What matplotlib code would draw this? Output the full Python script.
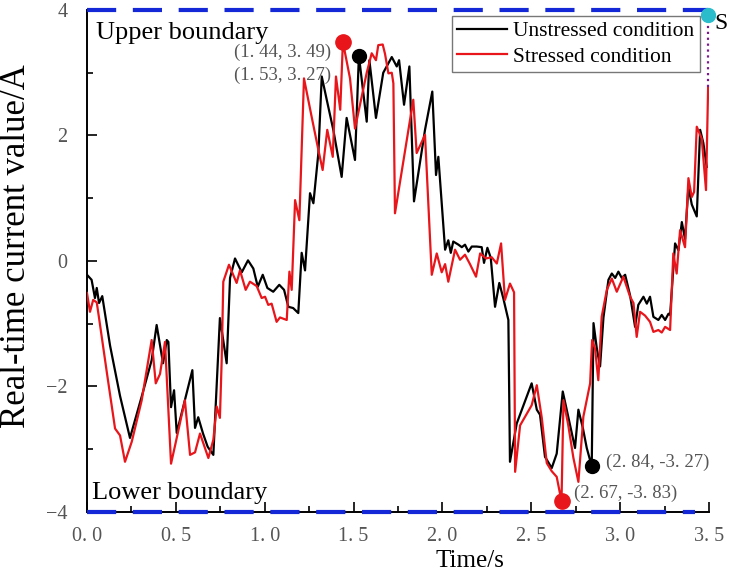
import matplotlib.pyplot as plt
from matplotlib.ticker import MultipleLocator, FuncFormatter

plt.rcParams['font.family'] = ['Liberation Serif', 'DejaVu Serif']

# Unstressed condition (time in s, current in A)
t_unstressed = [0.00, 0.026, 0.045, 0.055, 0.068, 0.086, 0.13, 0.186, 0.242, 0.308, 0.364,
                0.392, 0.428, 0.449, 0.458, 0.473, 0.49, 0.505, 0.593, 0.608, 0.626, 0.653,
                0.679, 0.711, 0.748, 0.786, 0.805, 0.833, 0.871, 0.906, 0.936, 0.961, 0.989,
                1.015, 1.048, 1.082, 1.109, 1.133, 1.16, 1.189, 1.208, 1.227, 1.255, 1.274,
                1.302, 1.321, 1.349, 1.386, 1.433, 1.461, 1.508, 1.53, 1.574, 1.589, 1.626,
                1.667, 1.715, 1.743, 1.756, 1.784, 1.814, 1.84, 1.902, 1.943, 1.964, 1.977,
                2.015, 2.033, 2.047, 2.061, 2.09, 2.109, 2.127, 2.146, 2.165, 2.193, 2.221,
                2.234, 2.253, 2.272, 2.296, 2.32, 2.343, 2.371, 2.38, 2.418, 2.502, 2.531,
                2.549, 2.577, 2.615, 2.643, 2.677, 2.746, 2.765, 2.79, 2.812, 2.84, 2.85,
                2.869, 2.887, 2.906, 2.934, 2.953, 2.972, 2.99, 3.009, 3.028, 3.056, 3.084,
                3.102, 3.131, 3.15, 3.168, 3.187, 3.215, 3.234, 3.253, 3.272, 3.281, 3.309,
                3.328, 3.347, 3.365, 3.384, 3.403, 3.431, 3.45, 3.468, 3.487]
i_unstressed = [-0.22, -0.30, -0.59, -0.43, -0.67, -0.56, -1.35, -2.15, -2.82, -2.16, -1.58,
                -1.02, -1.63, -1.26, -1.29, -2.33, -2.06, -2.74, -1.74, -2.66, -2.49, -2.75,
                -2.96, -3.09, -0.91, -1.63, -0.27, 0.04, -0.18, 0.01, -0.12, -0.41, -0.22,
                -0.43, -0.49, -0.38, -0.46, -0.73, -0.75, -0.83, 0.13, -0.15, 1.08, 0.92,
                1.72, 2.94, 2.57, 2.09, 1.34, 2.28, 1.61, 3.27, 2.22, 3.20, 2.28,
                3.00, 3.25, 3.10, 3.20, 2.49, 3.10, 0.95, 2.09, 2.70, 1.37, 1.66,
                0.18, 0.33, 0.13, 0.31, 0.26, 0.22, 0.26, 0.15, 0.23, 0.23, 0.22,
                -0.03, 0.21, 0.05, -0.73, -0.35, -0.60, -0.94, -3.20, -2.59, -1.95, -2.37,
                -2.45, -3.12, -3.30, -3.07, -2.08, -2.98, -2.37, -2.66, -2.98, -3.27, -0.99,
                -1.40, -1.68, -0.90, -0.30, -0.20, -0.27, -0.17, -0.27, -0.22, -0.55, -1.05,
                -0.70, -0.57, -0.68, -0.57, -0.89, -0.94, -0.86, -0.94, -0.84, -0.86, 0.28,
                0.17, 0.62, 0.35, 1.18, 0.90, 0.71, 2.09, 1.88, 1.50]

# Stressed condition
t_stressed = [0.00, 0.017, 0.035, 0.055, 0.068, 0.113, 0.158, 0.186, 0.214, 0.252, 0.308,
              0.364, 0.387, 0.411, 0.439, 0.473, 0.495, 0.551, 0.58, 0.608, 0.636, 0.683,
              0.711, 0.73, 0.748, 0.758, 0.767, 0.799, 0.842, 0.861, 0.893, 0.917, 0.955,
              0.983, 1.002, 1.02, 1.039, 1.067, 1.086, 1.124, 1.139, 1.152, 1.171, 1.195,
              1.221, 1.264, 1.302, 1.326, 1.352, 1.383, 1.401, 1.425, 1.44, 1.48, 1.508,
              1.536, 1.574, 1.602, 1.626, 1.639, 1.664, 1.677, 1.696, 1.715, 1.724, 1.733,
              1.836, 1.855, 1.902, 1.94, 1.968, 1.996, 2.015, 2.033, 2.071, 2.099, 2.127,
              2.155, 2.189, 2.212, 2.245, 2.277, 2.306, 2.33, 2.352, 2.38, 2.403, 2.409,
              2.437, 2.502, 2.531, 2.559, 2.587, 2.615, 2.643, 2.67, 2.681, 2.707, 2.737,
              2.765, 2.793, 2.831, 2.842, 2.859, 2.877, 2.896, 2.925, 2.953, 2.981, 3.018,
              3.056, 3.075, 3.093, 3.112, 3.14, 3.168, 3.187, 3.215, 3.234, 3.253, 3.281,
              3.299, 3.318, 3.337, 3.365, 3.384, 3.403, 3.416, 3.431, 3.459, 3.483, 3.495]
i_stressed = [-0.51, -0.81, -0.62, -0.66, -0.91, -1.80, -2.67, -2.78, -3.20, -2.88, -2.22,
              -1.26, -1.95, -1.80, -1.29, -3.23, -2.95, -2.22, -3.09, -3.05, -2.75, -3.14,
              -2.85, -2.32, -2.50, -1.58, -0.33, -0.06, -0.35, -0.15, -0.46, -0.33, -0.40,
              -0.59, -0.57, -0.70, -0.68, -0.97, -0.90, -0.94, -0.17, -0.46, 0.97, 0.65,
              2.91, 2.30, 1.77, 1.45, 2.09, 1.66, 2.94, 2.41, 3.49, 2.91, 2.11,
              2.49, 3.00, 3.31, 3.20, 3.44, 3.45, 3.30, 2.99, 3.00, 2.83, 0.76,
              2.57, 1.72, 2.01, -0.22, 0.12, -0.18, -0.05, -0.33, 0.18, 0.02, 0.10,
              -0.05, -0.25, 0.12, 0.04, 0.06, -0.04, 0.28, -0.62, -0.36, -0.50, -3.36,
              -2.62, -2.30, -1.98, -2.50, -3.22, -3.35, -3.44, -3.83, -2.22, -2.60, -3.14,
              -3.52, -2.48, -1.95, -1.26, -1.40, -1.90, -0.89, -0.46, -0.28, -0.49, -0.25,
              -0.57, -0.67, -1.21, -0.81, -0.87, -0.97, -1.13, -1.10, -1.14, -1.05, -1.10,
              0.12, -0.20, 0.49, 0.22, 1.32, 1.02, 1.10, 2.14, 1.95, 1.13, 2.78]

# extreme points and their labels
peak_unstressed = (1.53, 3.27)
peak_stressed = (1.44, 3.49)
low_unstressed = (2.84, -3.27)
low_stressed = (2.67, -3.83)
upper_bound = 4
lower_bound = -4
s_point = (3.495, 3.92)


def pt_label(p):
    return "({}, {})".format(*[f"{v:.2f}".replace(".", ". ") for v in p])


fig = plt.figure(figsize=(7.29, 5.81), dpi=100)
ax = fig.add_axes([0.1193, 0.1188, 0.8533, 0.864])

ax.plot(t_unstressed, i_unstressed, color='black', lw=1.6, label='Unstressed condition', zorder=3)
ax.plot(t_stressed, i_stressed, color='#e8161b', lw=1.6, label='Stressed condition', zorder=4)

# boundaries
ax.plot([0, s_point[0]], [upper_bound, upper_bound], color='#1428d8', lw=3,
        dashes=(7, 4), zorder=5, clip_on=False)
ax.plot([0, 3.42], [lower_bound, lower_bound], color='#1428d8', lw=3,
        dashes=(7, 4), zorder=5, clip_on=False)

# extreme points
ax.plot(*peak_stressed, 'o', color='#e8161b', ms=11, zorder=6)
ax.plot(*peak_unstressed, 'o', color='black', ms=10, zorder=6)
ax.plot(*low_stressed, 'o', color='#e8161b', ms=11, zorder=6, clip_on=False)
ax.plot(*low_unstressed, 'o', color='black', ms=10, zorder=6)

ax.text(1.375, 3.33, pt_label(peak_stressed), fontsize=13.5, color='#555555',
        ha='right', va='center')
ax.text(1.375, 2.96, pt_label(peak_unstressed), fontsize=13.5, color='#555555',
        ha='right', va='center')
ax.text(2.92, -3.21, pt_label(low_unstressed), fontsize=13.5, color='#555555',
        ha='left', va='center')
ax.text(2.74, -3.70, pt_label(low_stressed), fontsize=13.5, color='#555555',
        ha='left', va='center')

# switching point at the right edge
ax.plot([s_point[0], s_point[0]], [i_stressed[-1], s_point[1]], color='#7a1a8c',
        lw=1.6, ls=':', zorder=5, clip_on=False)
ax.plot(*s_point, 'o', color='#2bbccc', ms=10, zorder=7, clip_on=False)
ax.text(3.53, 3.78, 'S', fontsize=17, ha='left', va='center', clip_on=False)

ax.text(0.05, 3.64, 'Upper boundary', fontsize=19, ha='left', va='center')
ax.text(0.03, -3.70, 'Lower boundary', fontsize=19, ha='left', va='center')

ax.set_xlim(0, 3.5)
ax.set_ylim(-4, 4)
ax.xaxis.set_major_locator(MultipleLocator(0.5))
ax.xaxis.set_minor_locator(MultipleLocator(0.25))
ax.yaxis.set_major_locator(MultipleLocator(2))
ax.yaxis.set_minor_locator(MultipleLocator(1))
ax.xaxis.set_major_formatter(FuncFormatter(lambda v, p: f"{v:.1f}".replace(".", ". ")))
ax.yaxis.set_major_formatter(FuncFormatter(lambda v, p: f"{v:.0f}".replace("-", "\u2212")))
ax.tick_params(which='both', direction='in', colors='black', labelcolor='#555555',
               labelsize=14.5, width=1.2)
ax.tick_params(which='major', length=7)
ax.tick_params(which='minor', length=4)
ax.tick_params(axis='x', which='major', pad=11)
ax.tick_params(axis='y', which='major', pad=14)
ax.spines['top'].set_visible(False)
ax.spines['right'].set_visible(False)
ax.spines['left'].set_linewidth(1.4)
ax.spines['bottom'].set_linewidth(1.4)

ax.set_xlabel('Time/s', fontsize=18, labelpad=4)
ax.xaxis.set_label_coords(0.616, -0.075)
ax.set_ylabel('Real-time current value/A', fontsize=25)
ax.yaxis.set_label_coords(-0.086, 0.53)

leg = ax.legend(loc='upper right', bbox_to_anchor=(0.985, 0.988), fontsize=15.5,
                frameon=True, fancybox=False, edgecolor='#555555', handlelength=2.3,
                borderpad=0.25, labelspacing=0.25, handletextpad=0.3, borderaxespad=0)
leg.get_frame().set_linewidth(1.0)

plt.savefig('out.png', dpi=100)
